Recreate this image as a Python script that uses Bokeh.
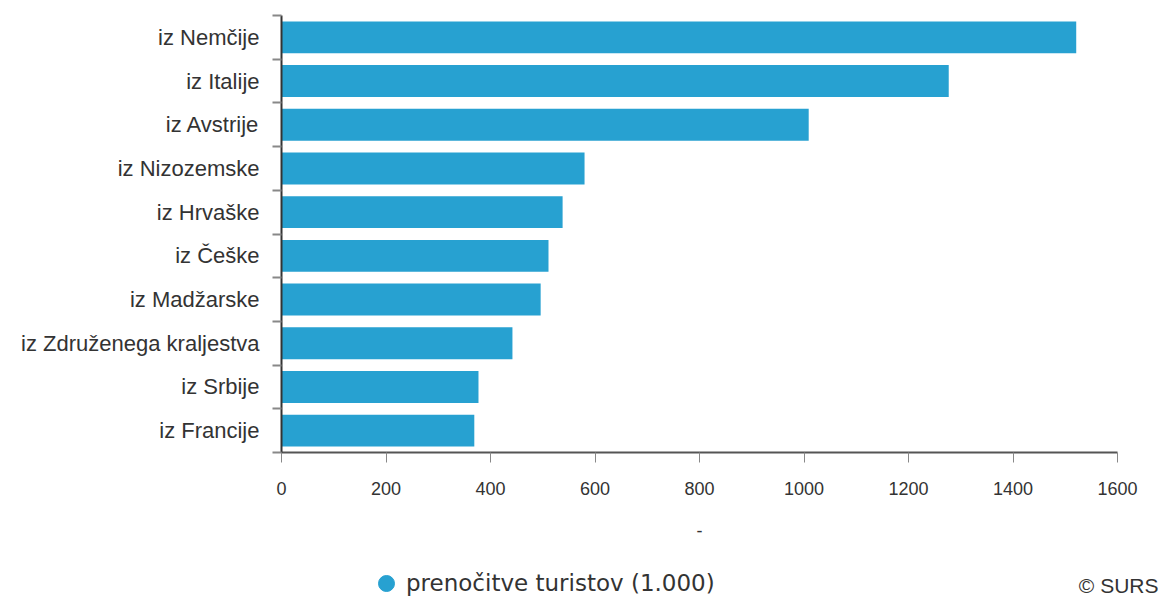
from bokeh.plotting import figure
from bokeh.layouts import column
from bokeh.models import (ColumnDataSource, FixedTicker, Range1d, Legend, LegendItem, Title)
from bokeh.core.properties import value
from bokeh.embed import file_html
from bokeh.resources import INLINE

# --- data ---
countries = ["iz Nemčije", "iz Italije", "iz Avstrije", "iz Nizozemske", "iz Hrvaške",
             "iz Češke", "iz Madžarske", "iz Združenega kraljestva", "iz Srbije", "iz Francije"]
overnights = [1521, 1277, 1009, 580, 538, 511, 496, 442, 377, 369]
x_ticks = [0, 200, 400, 600, 800, 1000, 1200, 1400, 1600]
series_name = "prenočitve turistov (1.000)"
x_title = "-"
credit = "© SURS"

n = len(countries)
ypos = [n - 1 - i for i in range(n)]
src = ColumnDataSource(dict(y=ypos, v=overnights, name=countries))

BAR = "#27a1d1"
TXT = "#333333"
W = 1160
LEFT = 281
AXIS_PX = 836          # pixel length of the 0..1600 axis
x_max = x_ticks[-1]
x_view_end = x_max * (W - LEFT) / AXIS_PX   # frame runs to the page edge

p = figure(width=W, height=560, output_backend="svg", toolbar_location=None,
           x_range=Range1d(0, x_view_end), y_range=Range1d(-0.5, n - 0.5),
           min_border_left=LEFT, min_border_right=0, min_border_top=15,
           min_border_bottom=105)
p.outline_line_color = None
p.grid.grid_line_color = None

p.hbar(y="y", right="v", left=0, height=0.73, source=src, color=BAR, line_color=None)

# x axis
xa = p.xaxis[0]
xa.bounds = (0, x_max)
xa.ticker = FixedTicker(ticks=x_ticks, minor_ticks=[])
xa.axis_line_color = "#555555"
xa.axis_line_width = 2
xa.major_tick_line_color = "#888888"
xa.major_tick_out = 10
xa.major_tick_in = 0
xa.minor_tick_out = 0
xa.minor_tick_in = 0
xa.major_label_text_font = "Liberation Sans"
xa.major_label_text_font_size = "18px"
xa.major_label_text_color = TXT
xa.major_label_standoff = 19

# x axis title, centred under the 0..1600 axis
p.add_layout(Title(text=x_title, align="left", offset=AXIS_PX / 2 - 3, standoff=48,
                   text_font="Liberation Sans", text_font_size="18px",
                   text_font_style="normal", text_color=TXT), "below")

# y axis: labels at category centres, tick marks at band boundaries
ya = p.yaxis[0]
ya.ticker = FixedTicker(ticks=ypos, minor_ticks=[k - 0.5 for k in range(n + 1)])
ya.major_label_overrides = {int(y): c for y, c in zip(ypos, countries)}
ya.axis_line_color = "#333333"
ya.axis_line_width = 2
ya.major_tick_out = 0
ya.major_tick_in = 0
ya.minor_tick_out = 9
ya.minor_tick_in = 0
ya.minor_tick_line_color = "#888888"
ya.minor_tick_line_width = 2
ya.major_label_standoff = 13
ya.major_label_text_font = "Liberation Sans"
ya.major_label_text_font_size = "22px"
ya.major_label_text_color = TXT

# bottom strip: legend + credit (coordinates = page pixels)
q = figure(width=W, height=36, output_backend="svg", toolbar_location=None,
           x_range=Range1d(LEFT, W), y_range=Range1d(0, 36),
           x_axis_type=None, y_axis_type=None,
           min_border_left=LEFT, min_border_right=0, min_border_top=0, min_border_bottom=0)
q.outline_line_color = None
q.grid.grid_line_color = None
dummy = q.scatter(x=[-1000], y=[-1000], marker="circle", color=BAR, size=16)
legend = Legend(items=[LegendItem(label=series_name, renderers=[dummy])],
                location=(85, -7), orientation="horizontal",
                glyph_width=40, glyph_height=40, label_standoff=0,
                padding=0, margin=0, border_line_color=None,
                background_fill_alpha=0,
                label_text_font="DejaVu Sans", label_text_font_size="23px",
                label_text_color=TXT)
q.add_layout(legend, "center")
q.text(x=[1158], y=[11], text=[credit], text_align="right", text_baseline="middle",
       text_font=value("Liberation Sans"), text_font_size="21px", text_color=TXT)

layout = column(p, q, spacing=0)
open("out.html", "w").write(file_html(layout, INLINE))
